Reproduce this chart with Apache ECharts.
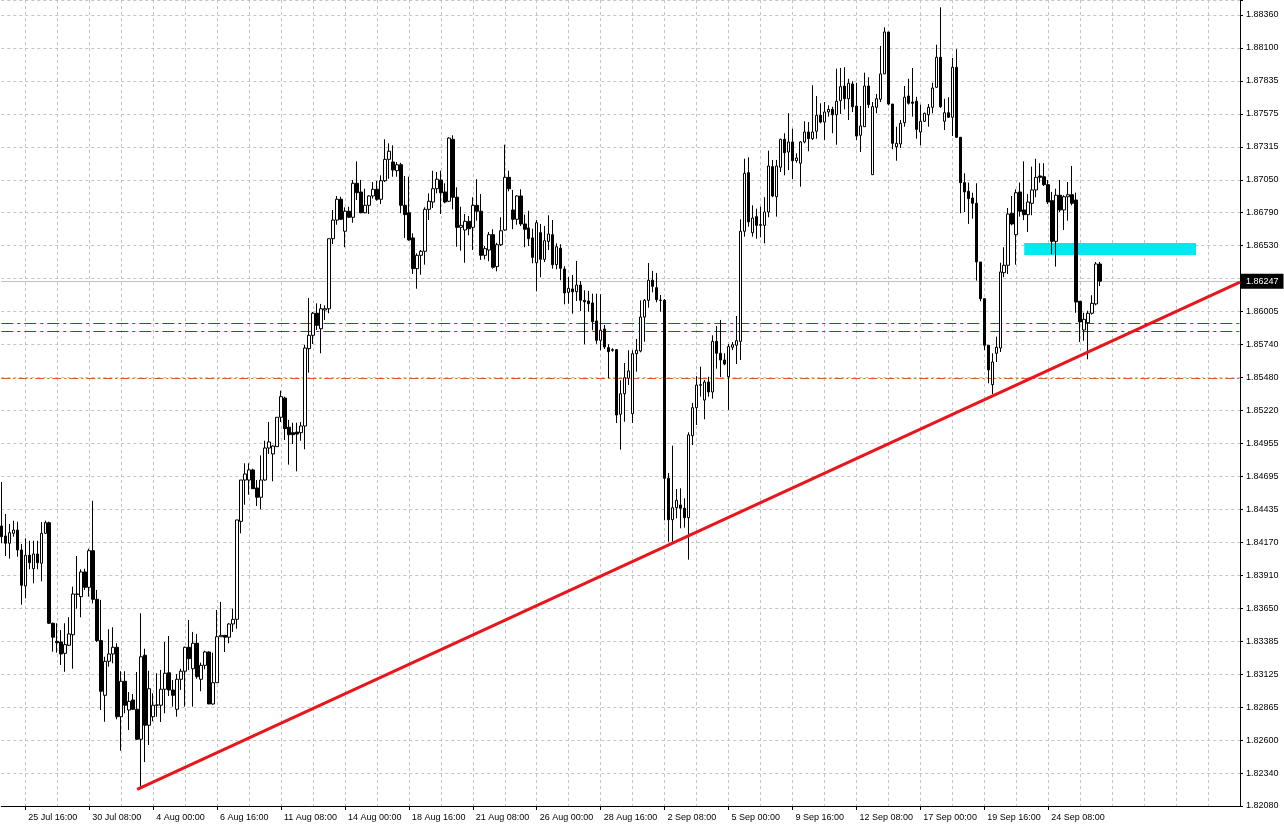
<!DOCTYPE html>
<html><head><meta charset="utf-8">
<script src="https://cdn.jsdelivr.net/npm/echarts@6/dist/echarts.min.js"></script>
<style>html,body{margin:0;padding:0;background:#fff}#chart{width:1284px;height:830px}</style>
</head><body><div id="chart"></div>
<script>
// ---- 4H candles (bar 0 .. 275) ----
const opens = [
1.84303,1.84224,1.84166,1.84245,1.84271,1.84113,1.83827,1.84071,1.83964,1.84081,
1.84007,1.84245,1.84329,1.83531,1.83388,1.83382,1.83292,1.83356,1.83440,1.83763,
1.83742,1.83938,1.83816,1.84107,1.83721,1.83393,1.82959,1.83229,1.83287,1.83340,
1.82789,1.83070,1.82842,1.82922,1.82848,1.82610,1.83277,1.82721,1.82789,1.82880,
1.82880,1.83007,1.83138,1.83001,1.82848,1.83086,1.83150,1.83340,1.83170,1.83372,
1.83086,1.83197,1.83303,1.82890,1.83059,1.83424,1.83435,1.83420,1.83525,1.83562,
1.84340,1.84668,1.84668,1.84748,1.84605,1.84531,1.84668,1.84922,1.84875,1.84933,
1.85166,1.85319,1.85087,1.85044,1.85049,1.85044,1.85097,1.85711,1.85817,1.85992,
1.85869,1.86018,1.86028,1.86584,1.86732,1.86897,1.86643,1.86802,1.86754,1.87024,
1.86955,1.86790,1.86849,1.86923,1.86976,1.86897,1.87044,1.87214,1.87193,1.87124,
1.87171,1.86849,1.86790,1.86590,1.86346,1.86452,1.86484,1.86817,1.86875,1.86981,
1.87050,1.86955,1.86881,1.87373,1.86913,1.86674,1.86653,1.86722,1.86674,1.86849,
1.86802,1.86452,1.86494,1.86616,1.86362,1.86536,1.86653,1.87071,1.86812,1.86738,
1.86923,1.86701,1.86669,1.86590,1.86393,1.86632,1.86420,1.86563,1.86616,1.86378,
1.86508,1.86343,1.86158,1.86185,1.86163,1.86216,1.86095,1.86089,1.86074,1.85931,
1.85777,1.85867,1.85719,1.85703,1.85703,1.85190,1.85353,1.85476,1.85195,1.85671,
1.85692,1.85962,1.86095,1.86254,1.86195,1.86097,1.86095,1.84682,1.84353,1.84448,
1.84470,1.84444,1.84369,1.85020,1.85242,1.85420,1.85303,1.85446,1.85367,1.85769,
1.85674,1.85621,1.85488,1.85722,1.85738,1.85769,1.86643,1.87108,1.86632,1.86759,
1.86695,1.86690,1.86796,1.87156,1.86917,1.87151,1.87373,1.87272,1.87352,1.87203,
1.87183,1.87352,1.87431,1.87378,1.87437,1.87564,1.87510,1.87590,1.87611,1.87568,
1.87680,1.87796,1.87695,1.87812,1.87637,1.87405,1.87473,1.87796,1.87092,1.87627,
1.87691,1.87892,1.88225,1.87653,1.87314,1.87336,1.87505,1.87717,1.87669,1.87675,
1.87431,1.87516,1.87568,1.87627,1.87786,1.88024,1.87516,1.87584,1.87548,1.87945,
1.87389,1.87029,1.86960,1.86907,1.86865,1.86399,1.86108,1.85738,1.85425,1.85674,
1.85716,1.86314,1.86373,1.86786,1.86616,1.86955,1.86812,1.86775,1.86865,1.86971,
1.87082,1.87076,1.87013,1.86886,1.86563,1.86929,1.86812,1.86917,1.86933,1.86891,
1.86087,1.85859,1.85917,1.85992,1.86066,1.86383
];
const closes = [
1.84218,1.84166,1.84250,1.84271,1.84113,1.83832,1.84071,1.84012,1.84081,1.84012,
1.84245,1.84329,1.83531,1.83420,1.83377,1.83287,1.83361,1.83446,1.83763,1.83761,
1.83938,1.83816,1.84107,1.83721,1.83393,1.82991,1.83229,1.83287,1.83340,1.82789,
1.83070,1.82880,1.82911,1.82848,1.82610,1.83265,1.82721,1.83011,1.82880,1.82882,
1.83007,1.83134,1.83001,1.82959,1.83086,1.83150,1.83340,1.83250,1.83372,1.83107,
1.83197,1.83303,1.82890,1.83059,1.83424,1.83435,1.83420,1.83525,1.83562,1.84351,
1.84668,1.84716,1.84748,1.84599,1.84531,1.84668,1.84922,1.84970,1.84938,1.85166,
1.85330,1.85076,1.85028,1.85028,1.85033,1.85097,1.85716,1.85817,1.85992,1.85896,
1.86028,1.86028,1.86584,1.86732,1.86897,1.86738,1.86802,1.86754,1.87024,1.86949,
1.86790,1.86849,1.86923,1.86976,1.86897,1.87044,1.87214,1.87278,1.87129,1.87171,
1.86849,1.86775,1.86574,1.86346,1.86452,1.86484,1.86817,1.86881,1.86981,1.87056,
1.86949,1.86875,1.87383,1.86913,1.86674,1.86690,1.86722,1.86663,1.86849,1.86802,
1.86452,1.86505,1.86616,1.86357,1.86536,1.86647,1.87071,1.86981,1.86738,1.86923,
1.86701,1.86659,1.86584,1.86436,1.86711,1.86420,1.86568,1.86621,1.86378,1.86520,
1.86349,1.86153,1.86190,1.86163,1.86216,1.86095,1.86084,1.86068,1.85925,1.85777,
1.85857,1.85724,1.85687,1.85698,1.85184,1.85353,1.85480,1.85534,1.85671,1.85698,
1.85962,1.86095,1.86254,1.86206,1.86100,1.86095,1.84682,1.84353,1.84448,1.84507,
1.84444,1.84369,1.85026,1.85242,1.85422,1.85425,1.85446,1.85367,1.85769,1.85674,
1.85621,1.85589,1.85727,1.85742,1.85774,1.86643,1.87103,1.86717,1.86748,1.86690,
1.86690,1.86796,1.87161,1.86923,1.87161,1.87373,1.87267,1.87352,1.87203,1.87225,
1.87352,1.87431,1.87378,1.87431,1.87564,1.87510,1.87590,1.87611,1.87568,1.87675,
1.87791,1.87695,1.87818,1.87632,1.87399,1.87479,1.87796,1.87648,1.87632,1.87695,
1.87892,1.88225,1.87653,1.87341,1.87341,1.87500,1.87707,1.87659,1.87659,1.87452,
1.87516,1.87580,1.87627,1.87780,1.88024,1.87632,1.87584,1.87548,1.87945,1.87389,
1.87029,1.86955,1.86902,1.86865,1.86399,1.86108,1.85738,1.85542,1.85605,1.85722,
1.86320,1.86373,1.86780,1.86701,1.86949,1.86802,1.86775,1.86875,1.86971,1.87071,
1.87071,1.87013,1.86875,1.86563,1.86929,1.86812,1.86917,1.86933,1.86865,1.86081,
1.85923,1.85944,1.85992,1.86071,1.86383,1.86247
];
const lows = [
1.84166,1.84065,1.84044,1.84218,1.84059,1.83678,1.83729,1.83959,1.83848,1.83959,
1.83864,1.84240,1.83525,1.83305,1.83297,1.83200,1.83146,1.83350,1.83170,1.83647,
1.83578,1.83795,1.83742,1.83689,1.83382,1.82842,1.82749,1.83186,1.83213,1.82768,
1.82519,1.82816,1.82684,1.82842,1.82604,1.82221,1.82429,1.82564,1.82753,1.82789,
1.82747,1.82816,1.82953,1.82869,1.82789,1.83001,1.82869,1.83160,1.82869,1.83091,
1.82991,1.83165,1.82890,1.82884,1.83059,1.83424,1.83303,1.83372,1.83462,1.83488,
1.84245,1.84472,1.84552,1.84599,1.84462,1.84436,1.84663,1.84875,1.84658,1.84933,
1.85129,1.84986,1.84790,1.84954,1.84737,1.84980,1.84912,1.85520,1.85748,1.85859,
1.85674,1.85939,1.85992,1.86542,1.86695,1.86732,1.86516,1.86748,1.86711,1.86891,
1.86786,1.86786,1.86780,1.86902,1.86886,1.86859,1.87034,1.87060,1.87076,1.87076,
1.86786,1.86590,1.86568,1.86304,1.86187,1.86298,1.86378,1.86732,1.86828,1.86944,
1.86780,1.86865,1.86875,1.86817,1.86520,1.86489,1.86393,1.86611,1.86494,1.86727,
1.86415,1.86420,1.86405,1.86346,1.86325,1.86526,1.86647,1.86960,1.86659,1.86695,
1.86685,1.86516,1.86526,1.86389,1.86166,1.86278,1.86399,1.86494,1.86346,1.86341,
1.86254,1.86063,1.86068,1.85989,1.86089,1.86010,1.85746,1.86004,1.85857,1.85750,
1.85698,1.85708,1.85476,1.85687,1.85121,1.84909,1.85131,1.85422,1.85121,1.85528,
1.85682,1.85766,1.86036,1.86158,1.86079,1.86004,1.84348,1.84178,1.84178,1.84364,
1.84285,1.84290,1.84036,1.84946,1.85105,1.85330,1.85150,1.85330,1.85314,1.85552,
1.85484,1.85579,1.85224,1.85700,1.85589,1.85621,1.86600,1.86679,1.86600,1.86584,
1.86595,1.86547,1.86754,1.86913,1.86759,1.87113,1.87087,1.87129,1.87056,1.87187,
1.86997,1.87341,1.87278,1.87368,1.87378,1.87500,1.87368,1.87553,1.87421,1.87330,
1.87574,1.87611,1.87526,1.87590,1.87368,1.87272,1.87473,1.87622,1.87092,1.87580,
1.87669,1.87892,1.87643,1.87294,1.87203,1.87304,1.87473,1.87648,1.87553,1.87378,
1.87325,1.87510,1.87473,1.87580,1.87780,1.87622,1.87447,1.87542,1.87399,1.87383,
1.86786,1.86796,1.86701,1.86743,1.86251,1.86087,1.85700,1.85436,1.85351,1.85605,
1.85684,1.86278,1.86304,1.86690,1.86378,1.86759,1.86732,1.86637,1.86770,1.86913,
1.87029,1.87002,1.86859,1.86462,1.86362,1.86796,1.86653,1.86727,1.86849,1.85996,
1.85764,1.85774,1.85627,1.85981,1.86055,1.86208
];
const highs = [
1.84652,1.84398,1.84319,1.84345,1.84337,1.84160,1.84205,1.84186,1.84186,1.84186,
1.84335,1.84345,1.84337,1.83535,1.83531,1.83477,1.83531,1.83578,1.83821,1.84065,
1.83959,1.83964,1.84123,1.84504,1.83795,1.83716,1.83265,1.83483,1.83499,1.83372,
1.83150,1.83150,1.82985,1.82969,1.83144,1.83610,1.83329,1.83154,1.82975,1.83134,
1.83160,1.83382,1.83430,1.83080,1.83128,1.83170,1.83345,1.83557,1.83462,1.83446,
1.83218,1.83313,1.83308,1.83297,1.83636,1.83700,1.83435,1.83531,1.83647,1.84351,
1.84668,1.84801,1.84801,1.84758,1.84668,1.84864,1.84980,1.85129,1.84944,1.85166,
1.85377,1.85330,1.85145,1.85123,1.85123,1.85129,1.85742,1.86113,1.86002,1.86071,
1.86066,1.86055,1.86584,1.86812,1.86923,1.86917,1.86833,1.86838,1.87050,1.87198,
1.87050,1.86981,1.86929,1.87034,1.87044,1.87087,1.87373,1.87341,1.87325,1.87193,
1.87187,1.87082,1.87076,1.86627,1.86468,1.86494,1.86833,1.86944,1.87124,1.87113,
1.87124,1.87024,1.87389,1.87405,1.86992,1.86838,1.86780,1.86764,1.86913,1.87056,
1.86939,1.86526,1.86637,1.86659,1.86552,1.86754,1.87330,1.87124,1.86971,1.86929,
1.86976,1.86775,1.86806,1.86663,1.86732,1.86701,1.86685,1.86770,1.86732,1.86547,
1.86540,1.86365,1.86280,1.86296,1.86407,1.86248,1.86174,1.86169,1.86147,1.86147,
1.86143,1.85899,1.85746,1.85714,1.85708,1.85460,1.85597,1.85698,1.85698,1.85788,
1.86095,1.86105,1.86391,1.86328,1.86312,1.86137,1.86105,1.84724,1.84941,1.84597,
1.84602,1.84523,1.85047,1.85280,1.85492,1.85568,1.85462,1.85488,1.85817,1.85891,
1.85939,1.85674,1.85748,1.85764,1.85970,1.86738,1.87219,1.87230,1.86849,1.86822,
1.86838,1.86913,1.87283,1.87209,1.87209,1.87378,1.87421,1.87580,1.87457,1.87262,
1.87357,1.87516,1.87510,1.87802,1.87717,1.87659,1.87669,1.87643,1.87632,1.87934,
1.87939,1.87945,1.87854,1.87834,1.87822,1.87637,1.87902,1.87865,1.87669,1.87733,
1.88114,1.88262,1.88225,1.87653,1.87473,1.87526,1.87796,1.87854,1.87939,1.87711,
1.87648,1.87584,1.87653,1.87822,1.88124,1.88421,1.87695,1.87707,1.88019,1.88088,
1.87389,1.87103,1.87029,1.86949,1.87024,1.86399,1.86108,1.85738,1.85674,1.85806,
1.86393,1.86516,1.86828,1.86923,1.86976,1.87029,1.87198,1.86939,1.87156,1.87219,
1.87183,1.87183,1.87050,1.86955,1.86981,1.87050,1.86929,1.87034,1.87161,1.86949,
1.86087,1.85996,1.86012,1.86135,1.86399,1.86399
];

// ---- axis labels ----
const yTickLabels = ['1.82080','1.82340','1.82600','1.82865','1.83125','1.83385','1.83650','1.83910',
  '1.84170','1.84435','1.84695','1.84955','1.85220','1.85480','1.85740','1.86005','1.86270','1.86530',
  '1.86790','1.87050','1.87315','1.87575','1.87835','1.88100','1.88360'];
const xTickLabels = ['25 Jul 16:00','30 Jul 08:00','4 Aug 00:00','6 Aug 16:00','11 Aug 08:00','14 Aug 00:00',
  '18 Aug 16:00','21 Aug 08:00','26 Aug 00:00','28 Aug 16:00','2 Sep 08:00','5 Sep 00:00','9 Sep 16:00',
  '12 Sep 08:00','17 Sep 00:00','19 Sep 16:00','24 Sep 08:00'];

// ---- drawn objects (price levels / anchors) ----
const currentPrice = 1.86247;
const greenLevels = [1.85911, 1.85847];
const orangeLevel = 1.85474;
const trendLine = [[34, 1.82212], [310, 1.86239]];
const zoneBars = [256, 299];
const zonePrices = [1.86550, 1.86455];

const barCount = 311, firstLabelBar = 6, labelStep = 16, gridStep = 8;
const yMin = 1.8208, yMax = 1.88479, yStep = (1.8836 - 1.8208) / 24;

const categories = Array.from({length: barCount}, (_, i) => String(i));
const candles = opens.map((o, i) => [o, closes[i], lows[i], highs[i]]);
const isLabelBar = i => i >= firstLabelBar && (i - firstLabelBar) % labelStep === 0 &&
  (i - firstLabelBar) / labelStep < xTickLabels.length;
const FONT = "'Liberation Sans', Arial, sans-serif";

// one series per level line (single markLine item each)
function levelSeries(value, color, dash) {
  return {
    type: 'line', data: [], z: 1, silent: true,
    markLine: {
      silent: true, symbol: 'none', animation: false, precision: 5, z: 1,
      lineStyle: {color: color, type: dash, width: 1, cap: 'butt'},
      label: {show: false},
      data: [{yAxis: value}]
    }
  };
}

const chart = echarts.init(document.getElementById('chart'), null, {renderer: 'canvas'});
chart.setOption({
  animation: false,
  backgroundColor: '#ffffff',
  grid: {left: 1.3, right: 44, top: 0, bottom: 24, containLabel: false, outerBoundsMode: 'none'},
  xAxis: {
    type: 'category', data: categories, boundaryGap: false,
    axisLine: {show: true, lineStyle: {color: '#000', width: 1}},
    axisTick: {show: true, length: 4, interval: (i) => isLabelBar(i), lineStyle: {color: '#000'}},
    axisLabel: {
      interval: (i) => isLabelBar(i),
      formatter: (v, i) => isLabelBar(i) ? xTickLabels[(i - firstLabelBar) / labelStep] : '',
      align: 'left', margin: 7, padding: [0, 0, 0, 3], fontSize: 9, color: '#000', fontFamily: FONT
    },
    splitLine: {show: true, interval: (i) => i >= firstLabelBar && (i - firstLabelBar) % gridStep === 0,
      lineStyle: {color: '#c4c4c4', type: [3, 3], width: 1}}
  },
  yAxis: {
    type: 'value', position: 'right', min: yMin, max: yMax, interval: yStep,
    axisLine: {show: true, lineStyle: {color: '#000', width: 1}},
    axisTick: {show: true, length: 3, lineStyle: {color: '#000'}},
    axisLabel: {
      margin: 6, fontSize: 9, color: '#000', fontFamily: FONT,
      formatter: (v) => {
        const k = Math.round((v - yMin) / yStep);
        if (Math.abs(v - (yMin + k * yStep)) > yStep * 0.1) return '';
        return yTickLabels[k] || '';
      }
    },
    splitLine: {show: true, lineStyle: {color: '#c4c4c4', type: [3, 3], width: 1}}
  },
  series: [
    levelSeries(greenLevels[0], '#008000', [12, 4, 3, 4]),
    levelSeries(greenLevels[1], '#008000', [12, 4, 3, 4]),
    levelSeries(orangeLevel, '#e0582a', [9, 3, 2, 3]),
    {
      type: 'candlestick', data: candles, barWidth: 3, z: 2, silent: true,
      itemStyle: {color: '#ffffff', color0: '#000000', borderColor: '#000000', borderColor0: '#000000',
        borderColorDoji: '#000000', borderWidth: 1},
      markArea: {
        silent: true, z: 1,
        itemStyle: {color: '#00e8f2', opacity: 1},
        data: [[{xAxis: zoneBars[0], yAxis: zonePrices[0]}, {xAxis: zoneBars[1], yAxis: zonePrices[1]}]]
      },
      markLine: {
        silent: true, symbol: 'none', z: 1, animation: false, precision: 5,
        data: [
          {yAxis: currentPrice, lineStyle: {color: '#c0c0c0', type: 'solid', width: 1},
            label: {show: true, position: 'end', distance: 1, formatter: () => currentPrice.toFixed(5),
              color: '#fff', backgroundColor: '#000', padding: [3, 5, 3, 5], fontSize: 9, fontFamily: FONT}}
        ]
      }
    },
    {
      type: 'line', data: trendLine, symbol: 'none', z: 4, silent: true,
      lineStyle: {color: '#e8151b', width: 3}
    }
  ]
});
</script>
</body></html>
